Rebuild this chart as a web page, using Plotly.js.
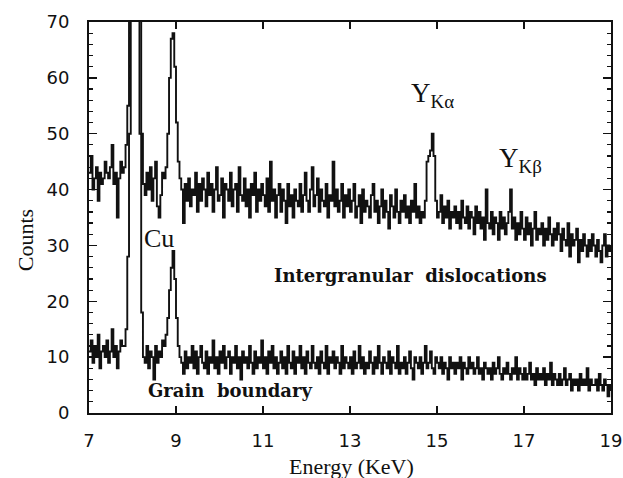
<!DOCTYPE html>
<html>
<head>
<meta charset="utf-8">
<script src="https://cdn.plot.ly/plotly-3.0.1.min.js"></script>
<style>html,body{margin:0;padding:0;background:#fff;}#chart{width:623px;height:478px;}</style>
</head>
<body>
<div id="chart"></div>
<script>
// Energy channels: start 7.00 keV, 0.04 keV per channel, 301 channels
const energyStart = 7.0;
const energyStep = 0.04;

// Intergranular dislocations spectrum (counts per channel)
const intergranularCounts = [
  43,46,40,42,44,38,43,41,42,45, 43,42,44,48,41,43,35,42,45,43,
  44,48,55,75,110,140,150,140,105,72,50,41,
  39,43,40,44,38,42,45,37,35,39,43,42,
  44,50,60,67,68,62,52,45,42,
  40,34,41,38,42,37,40,
  39,43,36,41,38,42,40,37,43,39,
  41,36,40,44,38,39,42,35,41,40,
  38,43,37,40,41,36,44,39,38,42,
  37,40,35,41,39,43,36,40,38,41,
  39,37,42,36,45,38,40,35,39,41,
  36,40,38,34,41,37,39,35,40,38,
  37,41,36,39,43,38,36,40,44,37,
  39,42,36,40,38,37,41,35,39,38,
  45,37,40,36,38,41,35,39,37,40,
  36,38,41,35,37,39,34,40,36,38,
  37,35,39,41,36,38,34,37,40,35,
  38,36,33,39,37,35,40,36,34,38,
  36,39,35,37,34,38,36,41,35,37,
  34,36,35,
  38,45,46,47,50,46,38,35,
  36,39,34,37,35,38,33,36,35,
  37,34,36,33,38,35,34,37,33,36,
  35,32,37,34,36,33,35,31,40,34,
  33,36,32,35,34,31,36,33,35,32,
  34,36,40,33,35,31,34,32,36,33,
  31,35,32,34,30,33,36,31,33,32,
  34,30,33,31,35,32,30,33,31,34,
  32,29,33,31,30,34,28,32,30,31,
  33,27,31,29,32,30,28,31,29,32,
  30,28,31,29,27,30,32,28,30,29,30
];

// Grain boundary spectrum (counts per channel)
const grainBoundaryCounts = [
  11,13,9,12,10,14,8,11,12,10, 13,9,11,15,10,12,8,11,13,12,
  12,15,28,50,85,120,140,125,90,50,18,10,
  9,12,8,11,10,6,12,9,11,10,13,12,14,
  17,22,26,29,24,17,12,10,
  9,7,11,8,10,9,12,
  8,11,7,10,12,9,8,11,7,10,
  9,13,8,10,7,11,9,12,8,10,
  11,7,10,9,12,8,10,6,11,9,
  10,8,12,9,7,11,8,10,9,13,
  8,10,7,11,9,12,8,10,7,9,
  11,8,10,7,12,9,8,11,7,10,
  9,12,8,10,7,11,9,8,12,9,
  8,10,7,11,9,8,12,7,10,9,
  11,8,10,9,7,12,8,10,9,8,
  10,7,11,8,9,12,8,10,7,9,
  8,11,9,7,10,8,12,9,7,10,
  9,8,11,7,10,9,8,12,7,9,
  8,10,7,9,11,8,6,10,9,8,
  10,7,9,12,8,9,11,8,7,10,
  9,8,10,7,9,8,6,10,8,9,
  7,9,8,10,6,9,8,7,10,8,
  9,7,8,10,7,8,6,9,8,7,
  8,6,9,7,8,10,7,6,8,7,
  9,7,6,8,7,10,6,8,7,6,
  8,6,7,9,6,7,5,8,6,7,
  6,8,5,7,6,9,5,7,6,5,
  7,5,6,8,5,6,7,4,6,5,
  6,4,7,5,6,5,8,4,6,5,
  5,6,4,7,5,4,6,5,3,5,4
];

const xTickValues = [7, 9, 11, 13, 15, 17, 19];
const xTickLabels = ["7", "9", "11", "13", "15", "17", "19"];
const yTickValues = [0, 10, 20, 30, 40, 50, 60, 70];

const lineStyle = {color: '#111', width: 1.9, shape: 'hv'};

const traces = [
  {type: 'scatter', mode: 'lines', name: 'Intergranular dislocations',
   x0: energyStart, dx: energyStep, y: intergranularCounts, line: lineStyle, hoverinfo: 'x+y'},
  {type: 'scatter', mode: 'lines', name: 'Grain boundary',
   x0: energyStart, dx: energyStep, y: grainBoundaryCounts, line: lineStyle, hoverinfo: 'x+y'}
];

const serif = 'Liberation Serif, Times New Roman, serif';
const boldSerif = 'DejaVu Serif, serif';

const layout = {
  width: 623, height: 478,
  margin: {l: 89, r: 12, t: 22, b: 65, pad: 0},
  paper_bgcolor: '#fff', plot_bgcolor: '#fff',
  showlegend: false,
  font: {family: 'DejaVu Sans, sans-serif', color: '#111'},
  xaxis: {
    range: [7, 19], tickvals: xTickValues, ticktext: xTickLabels,
    ticks: 'inside', ticklen: 7, tickwidth: 1.5, tickcolor: '#111',
    showline: true, linewidth: 2, linecolor: '#111', mirror: 'ticks',
    showgrid: false, zeroline: false,
    tickfont: {family: 'DejaVu Sans, sans-serif', size: 18, color: '#111'},
    ticklabelstandoff: 10
  },
  yaxis: {
    range: [0, 70], tickvals: yTickValues,
    ticks: 'inside', ticklen: 8, tickwidth: 1.5, tickcolor: '#111',
    minor: {dtick: 2, ticks: 'inside', ticklen: 4, tickwidth: 1.2, tickcolor: '#111', showgrid: false},
    showline: true, linewidth: 2, linecolor: '#111', mirror: 'ticks',
    showgrid: false, zeroline: false,
    tickfont: {family: 'DejaVu Sans, sans-serif', size: 18, color: '#111'},
    ticklabelstandoff: 14
  },
  annotations: [
    {text: 'Energy (KeV)', xref: 'paper', yref: 'paper', x: 0.502, y: -0.138, xanchor: 'center', yanchor: 'middle',
     showarrow: false, font: {family: serif, size: 22, color: '#111'}},
    {text: 'Counts', xref: 'paper', yref: 'paper', x: -0.1226, y: 0.442, xanchor: 'center', yanchor: 'middle',
     textangle: -90, showarrow: false, font: {family: serif, size: 22, color: '#111'}},
    {text: 'Cu', x: 8.61, y: 31.3, xref: 'x', yref: 'y', showarrow: false,
     font: {family: serif, size: 26, color: '#111'}},
    {text: '<b>Intergranular  dislocations</b>', x: 14.4, y: 24.7, xref: 'x', yref: 'y', showarrow: false,
     font: {family: boldSerif, size: 18, color: '#111'}},
    {text: '<b>Grain  boundary</b>', x: 10.24, y: 4.1, xref: 'x', yref: 'y', showarrow: false,
     font: {family: boldSerif, size: 18, color: '#111'}},
    {text: 'Y<sub>Kα</sub>', x: 14.89, y: 56.9, xref: 'x', yref: 'y', showarrow: false,
     font: {family: serif, size: 27, color: '#111'}},
    {text: 'Y<sub>Kβ</sub>', x: 16.91, y: 45.3, xref: 'x', yref: 'y', showarrow: false,
     font: {family: serif, size: 27, color: '#111'}}
  ]
};

Plotly.newPlot('chart', traces, layout, {displayModeBar: false, staticPlot: true});
</script>
</body>
</html>
